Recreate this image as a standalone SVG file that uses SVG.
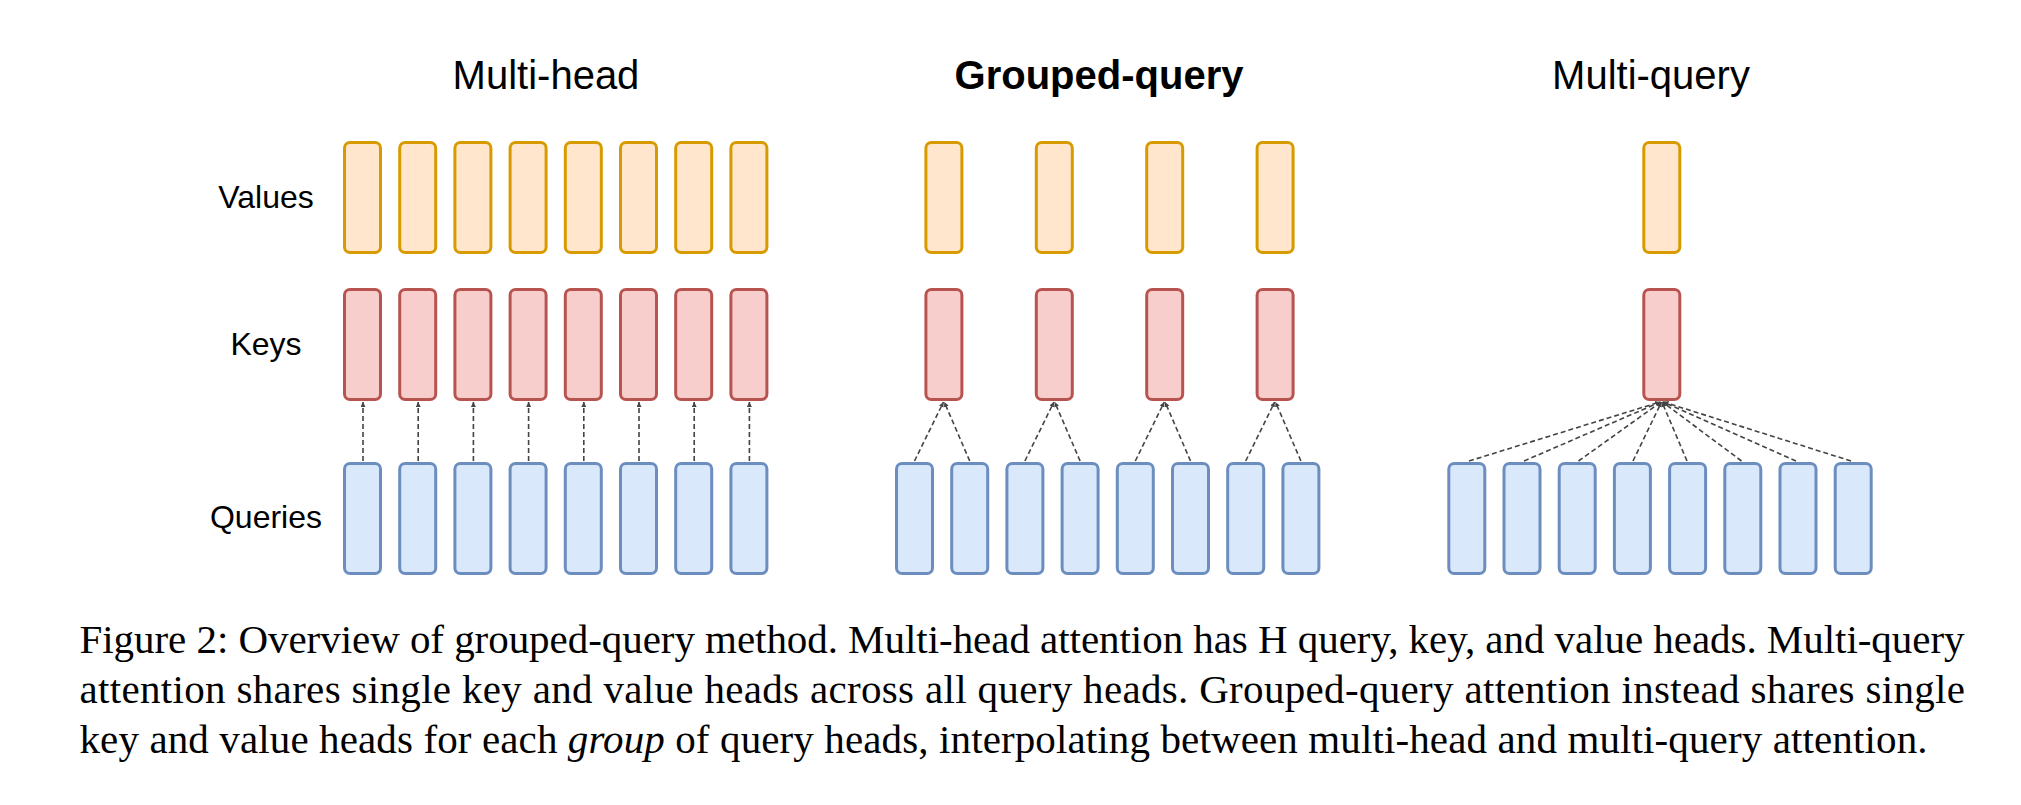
<svg xmlns="http://www.w3.org/2000/svg" width="2021" height="805" viewBox="0 0 2021 805">
<style>
.v{fill:#FFE6CC;stroke:#D79B00;stroke-width:3}
.k{fill:#F8CECC;stroke:#B85450;stroke-width:3}
.q{fill:#DAE8FC;stroke:#6C8EBF;stroke-width:3}
.title{font-family:"Liberation Sans",Arial,sans-serif;font-size:40px;fill:#000;text-anchor:middle}
.lab{font-family:"Liberation Sans",Arial,sans-serif;font-size:32px;fill:#000;text-anchor:middle}
.cap{font-family:"Liberation Serif","Times New Roman",serif;font-size:41px;fill:#000}
.c{fill:none;stroke:#444;stroke-width:1.6;stroke-dasharray:5 3;marker-end:url(#ah)}
</style>
<defs>
<marker id="ah" viewBox="0 0 10 10" refX="10" refY="5" markerUnits="userSpaceOnUse" markerWidth="5" markerHeight="5" orient="auto">
<path d="M0,0 L10,5 L0,10 z" fill="#444"/>
</marker>
<rect id="box" width="36" height="110" rx="5.5" ry="5.5"/>
</defs>
<rect width="2021" height="805" fill="#fff"/>

<g id="titles">
<text class="title" x="546" y="89">Multi-head</text>
<text class="title" x="1099" y="89" font-weight="bold">Grouped-query</text>
<text class="title" x="1651" y="89">Multi-query</text>
</g>
<g id="row-labels">
<text class="lab" x="266" y="208">Values</text>
<text class="lab" x="266" y="355">Keys</text>
<text class="lab" x="266" y="528">Queries</text>
</g>

<g id="connectors">
<!-- Multi-head -->
<line class="c" x1="363" y1="461" x2="363" y2="402"/>
<line class="c" x1="418.2" y1="461" x2="418.2" y2="402"/>
<line class="c" x1="473.4" y1="461" x2="473.4" y2="402"/>
<line class="c" x1="528.6" y1="461" x2="528.6" y2="402"/>
<line class="c" x1="583.8" y1="461" x2="583.8" y2="402"/>
<line class="c" x1="639" y1="461" x2="639" y2="402"/>
<line class="c" x1="694.2" y1="461" x2="694.2" y2="402"/>
<line class="c" x1="749.4" y1="461" x2="749.4" y2="402"/>
<!-- Grouped-query -->
<line class="c" x1="914.5" y1="461" x2="943.5" y2="402"/>
<line class="c" x1="969.7" y1="461" x2="944.3" y2="402"/>
<line class="c" x1="1024.9" y1="461" x2="1053.9" y2="402"/>
<line class="c" x1="1080.1" y1="461" x2="1054.7" y2="402"/>
<line class="c" x1="1135.3" y1="461" x2="1164.3" y2="402"/>
<line class="c" x1="1190.5" y1="461" x2="1165.1" y2="402"/>
<line class="c" x1="1245.7" y1="461" x2="1274.7" y2="402"/>
<line class="c" x1="1300.9" y1="461" x2="1275.5" y2="402"/>
<!-- Multi-query -->
<line class="c" x1="1469" y1="461" x2="1660" y2="402"/>
<line class="c" x1="1524" y1="461" x2="1660.5" y2="402"/>
<line class="c" x1="1578.5" y1="461" x2="1661" y2="402"/>
<line class="c" x1="1633" y1="461" x2="1661.5" y2="402"/>
<line class="c" x1="1687" y1="461" x2="1662" y2="402"/>
<line class="c" x1="1741.5" y1="461" x2="1662.5" y2="402"/>
<line class="c" x1="1796" y1="461" x2="1663" y2="402"/>
<line class="c" x1="1851" y1="461" x2="1663.5" y2="402"/>
</g>

<g id="multi-head">
<g id="mh-values">
<use href="#box" class="v" x="344.5" y="142.5"/>
<use href="#box" class="v" x="399.7" y="142.5"/>
<use href="#box" class="v" x="454.9" y="142.5"/>
<use href="#box" class="v" x="510.1" y="142.5"/>
<use href="#box" class="v" x="565.3" y="142.5"/>
<use href="#box" class="v" x="620.5" y="142.5"/>
<use href="#box" class="v" x="675.7" y="142.5"/>
<use href="#box" class="v" x="730.9" y="142.5"/>
</g>
<g id="mh-keys">
<use href="#box" class="k" x="344.5" y="289.5"/>
<use href="#box" class="k" x="399.7" y="289.5"/>
<use href="#box" class="k" x="454.9" y="289.5"/>
<use href="#box" class="k" x="510.1" y="289.5"/>
<use href="#box" class="k" x="565.3" y="289.5"/>
<use href="#box" class="k" x="620.5" y="289.5"/>
<use href="#box" class="k" x="675.7" y="289.5"/>
<use href="#box" class="k" x="730.9" y="289.5"/>
</g>
<g id="mh-queries">
<use href="#box" class="q" x="344.5" y="463.5"/>
<use href="#box" class="q" x="399.7" y="463.5"/>
<use href="#box" class="q" x="454.9" y="463.5"/>
<use href="#box" class="q" x="510.1" y="463.5"/>
<use href="#box" class="q" x="565.3" y="463.5"/>
<use href="#box" class="q" x="620.5" y="463.5"/>
<use href="#box" class="q" x="675.7" y="463.5"/>
<use href="#box" class="q" x="730.9" y="463.5"/>
</g>
</g>

<g id="grouped-query">
<g id="gq-values">
<use href="#box" class="v" x="925.9" y="142.5"/>
<use href="#box" class="v" x="1036.3" y="142.5"/>
<use href="#box" class="v" x="1146.7" y="142.5"/>
<use href="#box" class="v" x="1257.1" y="142.5"/>
</g>
<g id="gq-keys">
<use href="#box" class="k" x="925.9" y="289.5"/>
<use href="#box" class="k" x="1036.3" y="289.5"/>
<use href="#box" class="k" x="1146.7" y="289.5"/>
<use href="#box" class="k" x="1257.1" y="289.5"/>
</g>
<g id="gq-queries">
<use href="#box" class="q" x="896.5" y="463.5"/>
<use href="#box" class="q" x="951.7" y="463.5"/>
<use href="#box" class="q" x="1006.9" y="463.5"/>
<use href="#box" class="q" x="1062.1" y="463.5"/>
<use href="#box" class="q" x="1117.3" y="463.5"/>
<use href="#box" class="q" x="1172.5" y="463.5"/>
<use href="#box" class="q" x="1227.7" y="463.5"/>
<use href="#box" class="q" x="1282.9" y="463.5"/>
</g>
</g>

<g id="multi-query">
<g id="mq-values">
<use href="#box" class="v" x="1643.8" y="142.5"/>
</g>
<g id="mq-keys">
<use href="#box" class="k" x="1643.8" y="289.5"/>
</g>
<g id="mq-queries">
<use href="#box" class="q" x="1448.8" y="463.5"/>
<use href="#box" class="q" x="1504" y="463.5"/>
<use href="#box" class="q" x="1559.2" y="463.5"/>
<use href="#box" class="q" x="1614.4" y="463.5"/>
<use href="#box" class="q" x="1669.6" y="463.5"/>
<use href="#box" class="q" x="1724.8" y="463.5"/>
<use href="#box" class="q" x="1780" y="463.5"/>
<use href="#box" class="q" x="1835.2" y="463.5"/>
</g>
</g>

<g id="caption">
<text class="cap" x="79.5" y="653" textLength="1885" lengthAdjust="spacing">Figure 2: Overview of grouped-query method. Multi-head attention has H query, key, and value heads. Multi-query</text>
<text class="cap" x="79.5" y="703" textLength="1885.5" lengthAdjust="spacing">attention shares single key and value heads across all query heads. Grouped-query attention instead shares single</text>
<text class="cap" x="79.5" y="753" textLength="1848" lengthAdjust="spacing">key and value heads for each <tspan font-style="italic">group</tspan> of query heads, interpolating between multi-head and multi-query attention.</text>
</g>
</svg>
